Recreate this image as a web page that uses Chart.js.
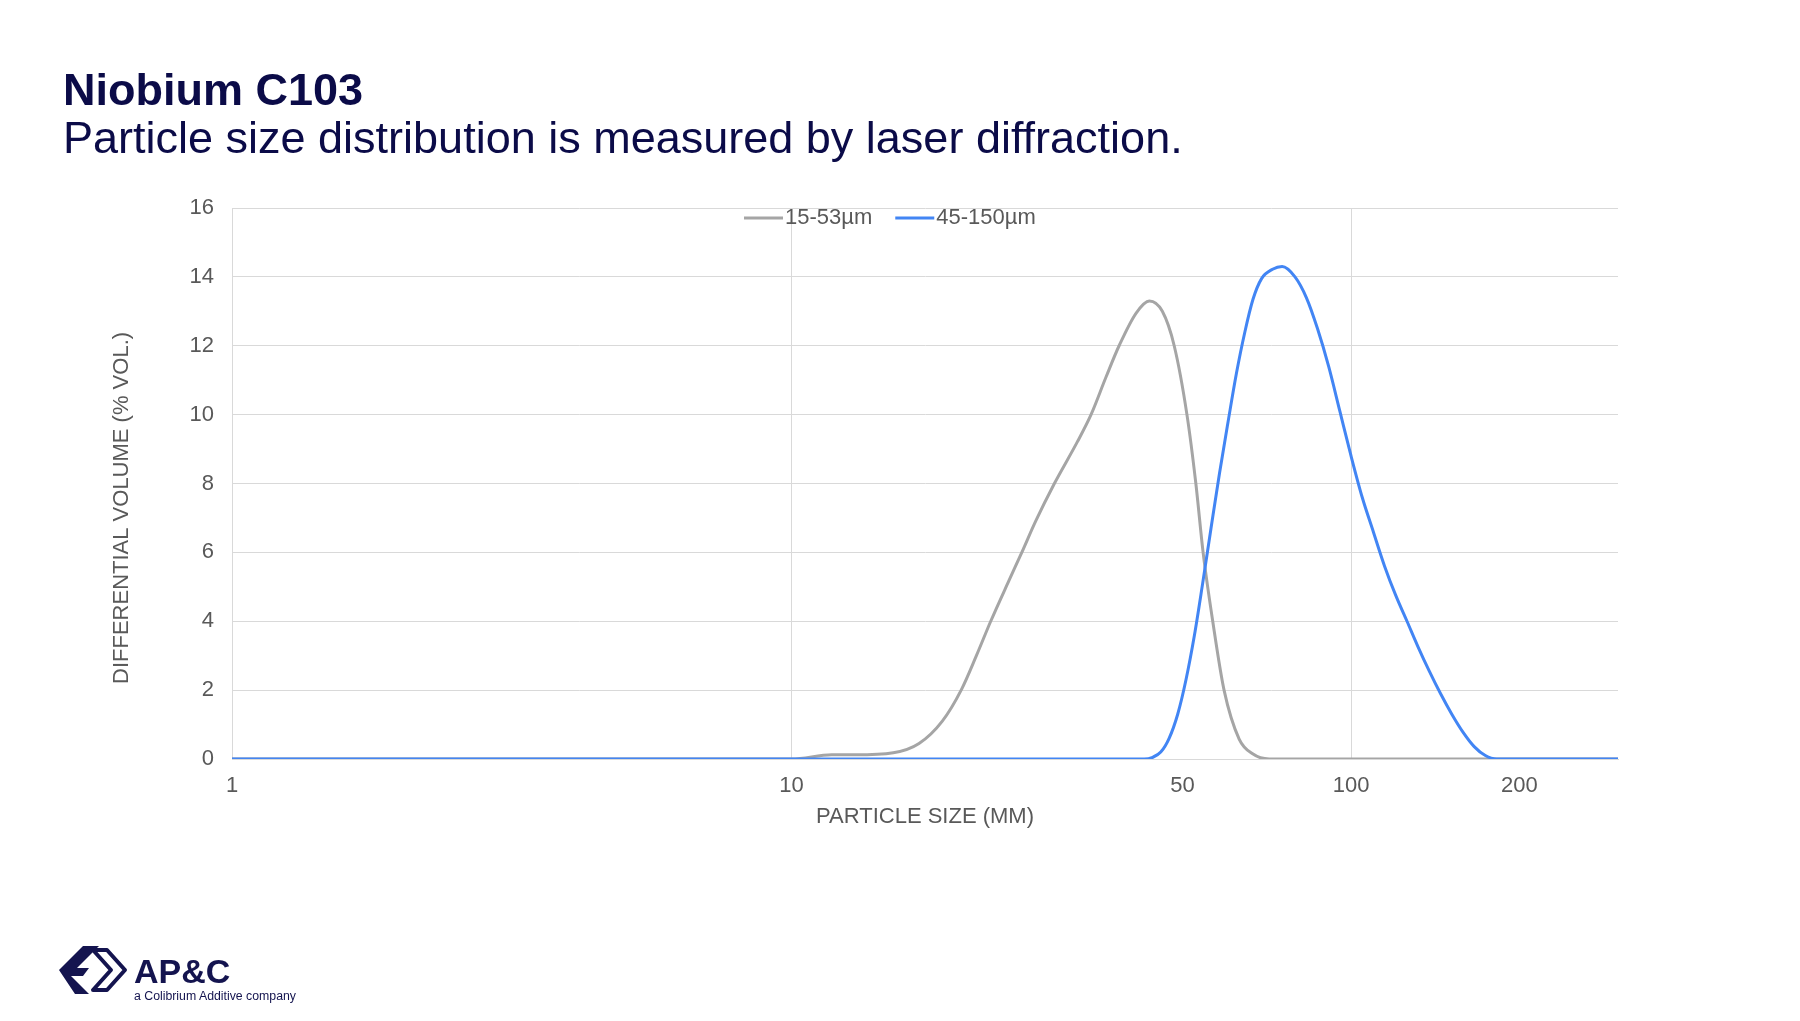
<!DOCTYPE html>
<html>
<head>
<meta charset="utf-8">
<title>Niobium C103</title>
<script src="https://cdn.jsdelivr.net/npm/chart.js@4.4.1/dist/chart.umd.min.js"></script>
<style>
  html, body { margin: 0; padding: 0; background: #fff; }
  #wrap { position: relative; width: 1800px; height: 1021px; }
  #logo { position: absolute; left: 55px; top: 940px; }
</style>
</head>
<body>
<div id="wrap">
  <canvas id="psdChart"></canvas>
  <svg id="logo" width="250" height="78" viewBox="0 0 250 78">
    <g fill="#14144f">
      <path d="M4,30 L28,6 L44,6 L22,28 L34,28 L28,36 L16,36 L34,54 L20,54 Z"/>
    </g>
    <path d="M38,10 L52,10 L70,30 L52,50 L38,50 L56,30 Z" fill="none" stroke="#14144f" stroke-width="4" stroke-linejoin="round"/>
    <text x="79" y="43" font-family="'Liberation Sans', Arial, sans-serif" font-weight="bold" font-size="34" fill="#14144f">AP&amp;C</text>
    <text x="79" y="60" font-family="'Liberation Sans', Arial, sans-serif" font-size="12.3" fill="#14144f">a Colibrium Additive company</text>
  </svg>
</div>
<script>
Chart.defaults.font.family = "'Liberation Sans', Arial, sans-serif";

// x axis: particle size (log), y axis: differential volume %
const xTicks = [1, 10, 50, 100, 200];
const xGrid = [10, 100];

const seriesNames = ['15-53µm', '45-150µm'];

const fineSizes = [1, 10, 11.8, 13, 15.2, 16.9, 18.6, 20.1, 21.4, 22.7, 24.5, 25.8, 27.3, 29.5, 32.4, 34.3, 36.5, 38.5, 41.3, 43.6, 46.0, 48.3, 50.9, 52.8, 54.4, 56.6, 59.3, 63.1, 66.7, 71.4, 300];
const fineValues = [0, 0, 0.12, 0.12, 0.18, 0.45, 1.1, 2.0, 3.0, 4.0, 5.2, 6.0, 6.9, 8.0, 9.2, 10.0, 11.1, 12.0, 12.95, 13.3, 13.0, 12.0, 10.0, 8.0, 6.0, 4.0, 2.0, 0.58, 0.15, 0, 0];

const coarseSizes = [1, 42.7, 44.2, 45.7, 47.3, 49.0, 50.7, 52.5, 54.3, 56.2, 58.2, 60.3, 62.4, 64.6, 66.8, 69.2, 72.4, 75.3, 79.4, 83.2, 87.1, 91.2, 95.5, 100, 104.7, 109.6, 114.8, 120.2, 125.9, 131.8, 138, 144.5, 151.4, 158.5, 166, 173.8, 182, 300];
const coarseValues = [0, 0, 0.05, 0.2, 0.6, 1.3, 2.3, 3.6, 5.1, 6.7, 8.3, 9.8, 11.2, 12.4, 13.35, 13.95, 14.22, 14.3, 14.0, 13.4, 12.5, 11.4, 10.1, 8.8, 7.6, 6.6, 5.6, 4.75, 4.0, 3.25, 2.55, 1.9, 1.3, 0.78, 0.36, 0.1, 0, 0];

const textGrey = '#595959';
const gridGrey = '#d9d9d9';
const navy = '#0b0b48';

function toPoints(sizes, values) {
  return sizes.map((s, i) => ({x: s, y: values[i]}));
}

// small line legend drawn inside the plot, like the original
const lineLegend = {
  id: 'lineLegend',
  afterDraw(chart) {
    const ctx = chart.ctx;
    let x = 744;
    const y = 218;
    ctx.save();
    ctx.font = "22px 'Liberation Sans', Arial, sans-serif";
    ctx.textBaseline = 'middle';
    ctx.fillStyle = textGrey;
    chart.data.datasets.forEach(ds => {
      ctx.strokeStyle = ds.borderColor;
      ctx.lineWidth = 3;
      ctx.beginPath();
      ctx.moveTo(x, y);
      ctx.lineTo(x + 39, y);
      ctx.stroke();
      x += 41;
      ctx.fillText(ds.label, x, y);
      x += ctx.measureText(ds.label).width + 23;
    });
    ctx.restore();
  }
};

const ctx = document.getElementById('psdChart').getContext('2d');
new Chart(ctx, {
  type: 'line',
  data: {
    datasets: [
      {
        label: seriesNames[0],
        data: toPoints(fineSizes, fineValues),
        borderColor: '#a5a5a5',
        backgroundColor: '#a5a5a5',
        borderWidth: 3,
        pointRadius: 0,
        cubicInterpolationMode: 'monotone',
        order: 1
      },
      {
        label: seriesNames[1],
        data: toPoints(coarseSizes, coarseValues),
        borderColor: '#4285f4',
        backgroundColor: '#4285f4',
        borderWidth: 3,
        pointRadius: 0,
        cubicInterpolationMode: 'monotone',
        order: 0
      }
    ]
  },
  options: {
    responsive: true,
    maintainAspectRatio: false,
    animation: false,
    layout: { padding: { left: 63, right: 182, top: 0, bottom: 182 } },
    plugins: {
      legend: { display: false },
      tooltip: { enabled: false },
      title: {
        display: true,
        text: 'Niobium C103',
        align: 'start',
        color: navy,
        font: { size: 45, weight: 'bold', lineHeight: 1 },
        padding: { top: 70, bottom: 0 }
      },
      subtitle: {
        display: true,
        text: 'Particle size distribution is measured by laser diffraction.',
        align: 'start',
        color: navy,
        font: { size: 45, lineHeight: 1 },
        padding: { top: 3, bottom: 45 }
      }
    },
    scales: {
      x: {
        type: 'logarithmic',
        min: 1,
        max: 300,
        afterBuildTicks: s => { s.ticks = xTicks.map(v => ({value: v})); },
        afterFit: s => { s.height = 80; },
        ticks: {
          callback: v => String(v),
          color: textGrey,
          font: { size: 22 },
          padding: 14,
          autoSkip: false,
          maxRotation: 0
        },
        grid: {
          color: c => (c.tick && xGrid.includes(c.tick.value)) ? gridGrey : 'rgba(0,0,0,0)',
          lineWidth: 1,
          drawTicks: false
        },
        border: { color: gridGrey },
        title: {
          display: true,
          text: 'PARTICLE SIZE (MM)',
          color: textGrey,
          font: { size: 22 },
          padding: { top: 0, bottom: 9 }
        }
      },
      y: {
        min: 0,
        max: 16,
        afterFit: s => { s.width = 169; },
        ticks: {
          stepSize: 2,
          color: textGrey,
          font: { size: 22 },
          padding: 18
        },
        grid: { color: gridGrey, lineWidth: 1, drawTicks: false },
        border: { color: gridGrey },
        title: {
          display: true,
          text: 'DIFFERENTIAL VOLUME (% VOL.)        ',
          color: textGrey,
          font: { size: 22 },
          padding: { top: 46, bottom: 0 }
        }
      }
    }
  },
  plugins: [lineLegend]
});
</script>
</body>
</html>
